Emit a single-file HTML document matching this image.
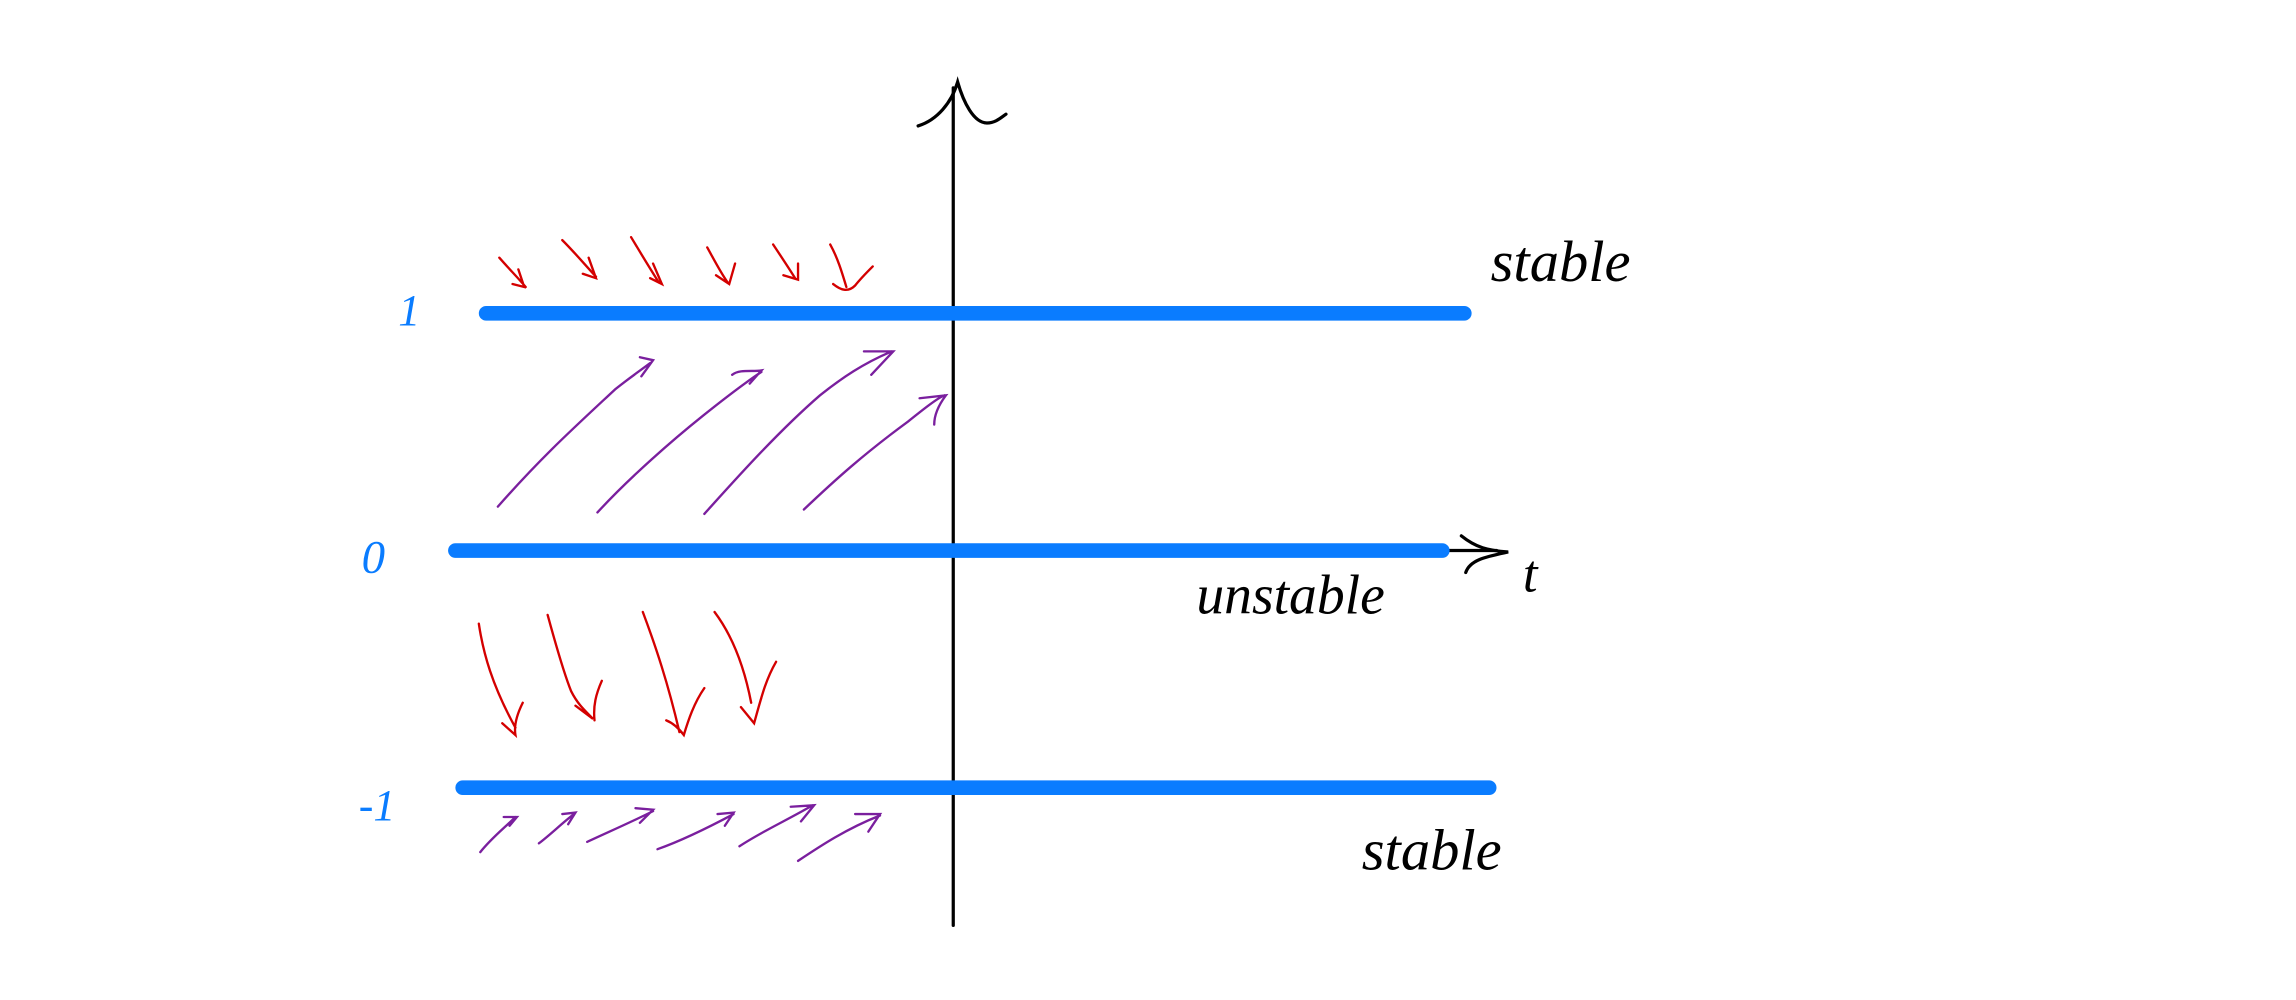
<!DOCTYPE html>
<html><head><meta charset="utf-8"><style>
html,body{margin:0;padding:0;background:#fff;}
svg{display:block;}
.hand{font-family:"Liberation Serif","DejaVu Sans",serif;font-style:italic;}
</style></head><body>
<svg id="chart" width="2296" height="1000" viewBox="0 0 1568 683" preserveAspectRatio="none" xmlns="http://www.w3.org/2000/svg">
<g id="axes" fill="none" stroke="#000" stroke-width="2.2" stroke-linecap="round">
  <path d="M651 632 L651 60"/>
  <path d="M627 86 C640 82 650 70 654 56 C658 70 665 84 674 84 C680 84 684 80 687 78"/>
  <path d="M998 366 C1008 374 1016 376 1030 377 C1016 380 1004 382 1001 391"/>
  <path d="M985 376 L1022 376"/>
</g>
<g id="levels"></g>
<g id="red" fill="none" stroke="#d40000" stroke-width="1.6" stroke-linecap="round">
  <path d="M341 176 C348 184 354 190 359 196 M354 184 L358 196 L350 194"/>
  <path d="M384 164 C392 172 397 178 407 189 M402 176 L407 190 L398 187"/>
  <path d="M431 162 C437 172 443 182 450 193 M446 180 L452 194 L444 190"/>
  <path d="M483 169 C488 178 492 186 497 193 M502 180 L498 194 L489 188"/>
  <path d="M528 167 C534 176 538 182 543 190 M545 180 L545 191 L535 188"/>
  <path d="M567 167 C572 176 575 186 578 196 M569 194 C574 198 579 200 584 195 C588 190 592 186 596 182"/>
  <path d="M327 426 C330 446 336 468 352 497 M357 480 C353 488 351 496 352 502 L343 494"/>
  <path d="M374 420 C380 442 386 462 390 472 C394 480 398 484 405 491 L393 482 M411 465 C407 474 405 482 406 492"/>
  <path d="M439 418 C448 442 456 466 464 500 M481 470 C474 480 470 492 467 502 C464 498 460 494 455 492"/>
  <path d="M488 418 C500 434 508 454 513 480 M530 452 C523 464 520 476 515 494 L506 483"/>
</g>
<g id="purple" fill="none" stroke="#7a1f9e" stroke-width="1.6" stroke-linecap="round">
  <path d="M340 346 C370 312 390 294 420 266 C430 258 436 254 444 248 M437 244 L446 246 L438 257"/>
  <path d="M408 350 C430 326 460 300 480 284 C495 272 508 262 520 254 M500 256 C505 252 514 254 520 253 L512 262"/>
  <path d="M481 351 C500 330 530 296 560 270 C575 258 590 248 609 240 M590 240 L610 240 L595 256"/>
  <path d="M549 348 C570 328 590 310 620 288 C630 280 640 272 645 270 M628 272 L646 270 C640 278 638 284 638 290"/>
  <path d="M328 582 C336 572 344 566 352 558 M344 558 L353 558 L348 564"/>
  <path d="M368 576 C376 570 384 562 392 556 M384 556 L393 555 L388 563"/>
  <path d="M401 575 C416 568 430 562 446 554 M434 552 L446 553 L437 562"/>
  <path d="M449 580 C466 574 486 564 501 556 M490 556 L501 555 L495 564"/>
  <path d="M505 578 C520 568 538 560 555 550 M540 551 L556 550 L547 561"/>
  <path d="M545 588 C560 578 578 566 601 557 M584 556 L601 556 L593 568"/>
</g>
<g id="labels">
  <text class="hand" x="1040" y="404" font-size="36">t</text>
  <text class="hand" x="1018" y="192" font-size="40">stable</text>
  <text class="hand" x="817" y="419" font-size="38">unstable</text>
  <text class="hand" x="930" y="594" font-size="40">stable</text>
  <text class="hand" x="272" y="222" font-size="30" fill="#0a7cff">1</text>
  <text class="hand" x="247" y="391" font-size="32" fill="#0a7cff">0</text>
  <text class="hand" x="245" y="560" font-size="30" fill="#0a7cff">-1</text>
</g>
<script>
const levels = [1, 0, -1];
const levelStarts = [332, 311, 316];
const levelEnds = [1000, 985, 1017];
function yScale(v){ return 376 - 162 * v; }
const g = document.getElementById('levels');
levels.forEach(function(v, i){
  const l = document.createElementNS('http://www.w3.org/2000/svg','line');
  
  
  l.setAttribute('x1', levelStarts[i]);
  l.setAttribute('x2', levelEnds[i]);
  l.setAttribute('y1', yScale(v));
  l.setAttribute('y2', yScale(v));
  l.setAttribute('stroke', '#0a7cff');
  l.setAttribute('stroke-width', '10');
  l.setAttribute('stroke-linecap', 'round');
  g.appendChild(l);
});
</script>
</svg>
</body></html>
